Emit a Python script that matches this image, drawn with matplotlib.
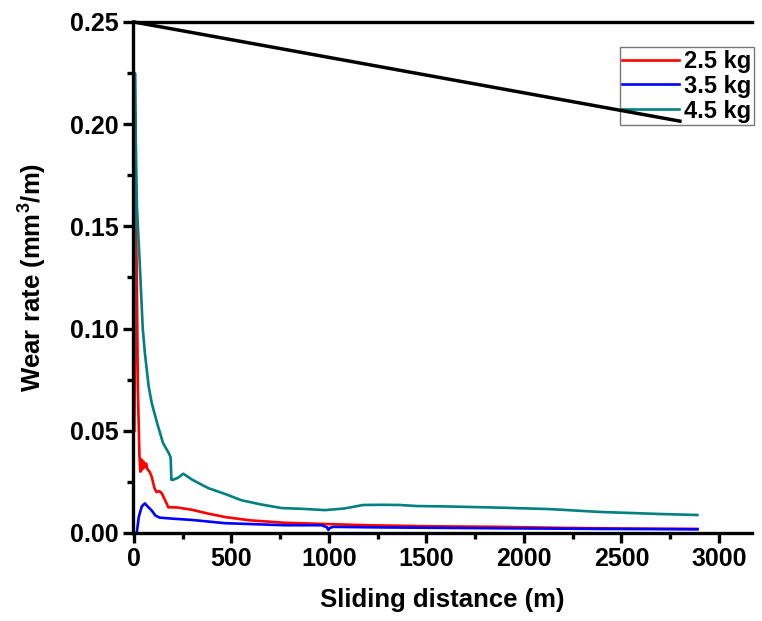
import matplotlib
matplotlib.use("Agg")
import matplotlib.pyplot as plt
from matplotlib.ticker import MultipleLocator

plt.rcParams['font.family'] = ['Liberation Sans', 'DejaVu Sans']
plt.rcParams['font.weight'] = 'bold'
plt.rcParams['mathtext.fontset'] = 'custom'
plt.rcParams['mathtext.rm'] = 'Liberation Sans:bold'
plt.rcParams['mathtext.bf'] = 'Liberation Sans:bold'

# Datos (distancia en m, tasa de desgaste en mm3/m)
x_25 = [2, 5, 9, 12, 14, 20, 28, 33, 38, 42, 48, 55, 62, 70, 80, 91, 105, 116, 130, 142,
        160, 176, 220, 296, 380, 467, 595, 774, 980, 1200, 1500, 1877, 2200, 2500, 2890]
y_25 = [0.050, 0.085, 0.165, 0.140, 0.129, 0.070, 0.038, 0.030, 0.036, 0.031, 0.035, 0.032,
        0.034, 0.031, 0.030, 0.0275, 0.022, 0.020, 0.0205, 0.0195, 0.016, 0.0126, 0.0125,
        0.0114, 0.0095, 0.0078, 0.0062, 0.0050, 0.0044, 0.0038, 0.0033, 0.0030, 0.0025,
        0.0022, 0.0020]

x_35 = [14, 25, 40, 56, 70, 91, 110, 133, 200, 296, 467, 774, 962, 990, 997, 1005, 1022,
        1300, 1877, 2400, 2890]
y_35 = [0.0, 0.008, 0.013, 0.0145, 0.013, 0.011, 0.0085, 0.0075, 0.0070, 0.0064, 0.0048,
        0.0038, 0.0038, 0.0028, 0.0015, 0.0025, 0.0030, 0.0027, 0.0023, 0.0020, 0.0018]

x_45 = [2, 5, 8, 15, 31, 45, 56, 75, 91, 118, 149, 179, 188, 192, 200, 225, 253, 300, 380,
        470, 552, 650, 757, 870, 980, 1080, 1175, 1277, 1364, 1450, 1600, 1877, 2133, 2390,
        2697, 2890]
y_45 = [0.085, 0.225, 0.200, 0.160, 0.129, 0.100, 0.088, 0.072, 0.0636, 0.054, 0.044, 0.039,
        0.037, 0.026, 0.026, 0.027, 0.029, 0.026, 0.022, 0.019, 0.016, 0.014, 0.0122, 0.0118,
        0.0112, 0.0120, 0.0137, 0.0138, 0.0137, 0.0132, 0.0130, 0.0124, 0.0117, 0.0103,
        0.0093, 0.0088]

# linea recta negra que aparece en la figura original
x_linea = [0, 2800]
y_linea = [0.25, 0.2015]

fig = plt.figure(figsize=(7.62, 6.21), dpi=100)
ax = fig.add_axes([133 / 762, 1 - 533 / 621, (752 - 133) / 762, (533 - 22) / 621])

ax.plot(x_linea, y_linea, color='black', lw=2.5, clip_on=False, zorder=5)
ax.plot(x_25, y_25, color='#ff0000', lw=1.9, label='2.5 kg')
ax.plot(x_35, y_35, color='#0000ff', lw=1.9, label='3.5 kg')
ax.plot(x_45, y_45, color='#008080', lw=1.9, label='4.5 kg')

ax.set_xlim(-5, 3170)
ax.set_ylim(0, 0.25)
ax.xaxis.set_major_locator(MultipleLocator(500))
ax.xaxis.set_minor_locator(MultipleLocator(250))
ax.yaxis.set_major_locator(MultipleLocator(0.05))
ax.yaxis.set_minor_locator(MultipleLocator(0.025))
ax.yaxis.set_major_formatter(plt.FormatStrFormatter('%.2f'))

for s in ['left', 'bottom', 'top']:
    ax.spines[s].set_linewidth(2.4)
ax.spines['right'].set_visible(False)

ax.tick_params(which='major', direction='out', length=7, width=2.4, labelsize=18, pad=3)
ax.tick_params(which='minor', direction='out', length=4.5, width=2.4)
ax.tick_params(top=False, right=False)

ax.set_xlabel('Sliding distance (m)', fontsize=18.5, fontweight='bold', labelpad=12)
ax.set_ylabel('Wear rate (mm$^3$/m)', fontsize=18.5, fontweight='bold', labelpad=16)

leg = ax.legend(loc='upper right', bbox_to_anchor=(1.003, 0.951), borderaxespad=0,
                fontsize=17, frameon=True, fancybox=False, edgecolor='#555555',
                handlelength=2.4, handletextpad=0.2, labelspacing=0.08, borderpad=0.12)
leg.get_frame().set_linewidth(1.0)
leg.set_zorder(4)

fig.savefig('out.png', dpi=100)
